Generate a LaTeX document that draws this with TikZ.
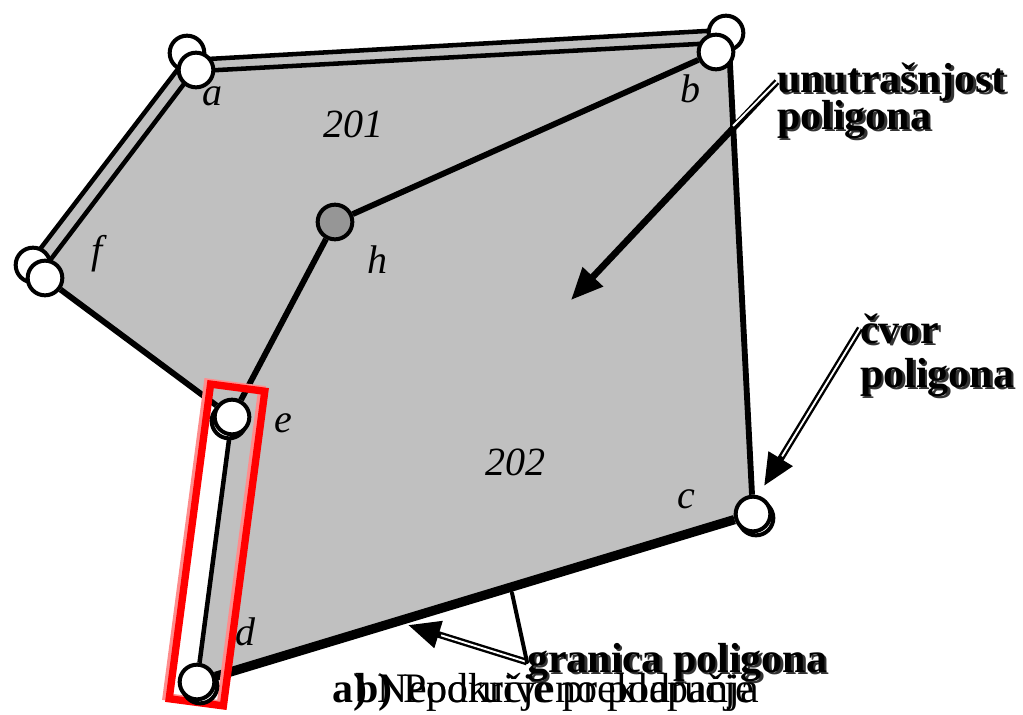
\documentclass[tikz,border=0pt]{standalone}
\usepackage{fontspec}
\setmainfont{Liberation Serif}
\usepackage{xcolor}
\usepackage{tikz}
\usetikzlibrary{arrows.meta, positioning, backgrounds}

\definecolor{polygray}{RGB}{192,192,192}
\definecolor{hubgray}{RGB}{150,150,150}

\begin{document}
\begin{tikzpicture}[x=0.75pt, y=-0.75pt, line join=round, line cap=round]
    \tikzset{
        vertex/.style={circle, draw, line width=3pt, fill=white, minimum size=26pt, inner sep=0pt},
        hub/.style={vertex, fill=hubgray},
        edge/.style={draw, line width=4.4pt},
        thinedge/.style={draw, line width=3.4pt},
        rim/.style={draw, line width=7pt},
        frame/.style={rectangle, draw=red, line width=5.5pt, line join=miter, rotate=-7.5, minimum width=41pt, minimum height=238pt, inner sep=0pt},
        ptlabel/.style={font=\fontsize{30}{30}\selectfont\itshape, anchor=base, inner sep=0pt},
        callout/.style={font=\fontsize{31.5}{31.5}\selectfont\bfseries, anchor=base west, inner sep=0pt},
        calloutshadow/.style={callout, text=black!80},
        caption/.style={font=\fontsize{31.5}{31.5}\selectfont, anchor=base west, inner sep=0pt},
        pointer/.style={draw, line width=5pt, line cap=butt, -{Triangle[length=24pt, width=20pt]}},
        pointercore/.style={draw, line width=1.4pt, line cap=butt}
    }
    \useasboundingbox (0,0) rectangle (1023,714);

    % vertices (back copies first)
    \node[vertex] (ABack) at (187,53) {};
    \node[vertex] (BBack) at (726,33) {};
    \node[vertex] (FBack) at (33,265) {};
    \node[vertex] (EShade) at (229,421) {};
    \node[vertex] (DShade) at (200,686) {};
    \node[vertex] (CShade) at (756,518) {};
    \node[vertex] (A) at (196,70) {};
    \node[vertex] (B) at (716,52) {};
    \node[vertex] (F) at (45,278) {};
    \node[vertex] (E) at (232,417) {};
    \node[vertex] (D) at (197,682) {};
    \node[vertex] (C) at (753,514) {};
    \node[hub] (H) at (335,222) {};

    % ends of the doubled outline
    \coordinate (ABoutA) at (190,60);
    \coordinate (ABoutB) at (724,30);
    \coordinate (ABinA) at (200,71);
    \coordinate (ABinB) at (716,43);
    \coordinate (AFoutA) at (181,65);
    \coordinate (AFoutF) at (34,257);
    \coordinate (AFinA) at (190,76);
    \coordinate (AFinF) at (45,267);
    \coordinate (BCtop) at (729,45);

    \begin{scope}[on background layer]
        \fill[polygray] (AFoutF) -- (AFoutA) -- (ABoutA) -- (ABoutB) -- (BCtop)
            -- (C.center) -- (D.center) -- (E.center) -- (F.center) -- cycle;
        \draw[thinedge] (ABoutA) -- (ABoutB);
        \draw[thinedge] (ABinA) -- (ABinB);
        \draw[thinedge] (AFoutA) -- (AFoutF);
        \draw[thinedge] (AFinA) -- (AFinF);
        \draw[edge] (F) -- (E);
        \draw[edge] (E) -- (H);
        \draw[edge] (H) -- (B);
        \draw[edge] (BCtop) -- (C);
        \draw[rim] (C) -- (D);
        \draw[thinedge] (D) -- (E);
        \node[frame, draw=red!45] (FrameGlow) at (214,543) {};
        \node[frame] (Frame) at (217,545) {};
    \end{scope}

    % vertex names and areas
    \node[ptlabel] (LabA) at (212,105) {a};
    \node[ptlabel] (LabB) at (690,102) {b};
    \node[ptlabel] (Lab201) at (353,137) {201};
    \node[ptlabel] (LabF) at (97,263) {f};
    \node[ptlabel] (LabH) at (377,273) {h};
    \node[ptlabel] (LabE) at (283,432) {e};
    \node[ptlabel] (Lab202) at (515,475) {202};
    \node[ptlabel] (LabC) at (686,508) {c};
    \node[ptlabel] (LabD) at (245,645) {d};

    % callouts
    \node[calloutshadow] (InteriorShade) at (779.5,94.5) {unutrašnjost};
    \node[calloutshadow] (InteriorShadeB) at (779.5,131.5) {poligona};
    \node[callout] (Interior) at (777,92) {unutrašnjost};
    \node[callout] (InteriorB) at (777,129) {poligona};
    \node[calloutshadow] (NodeShade) at (862.5,345.5) {čvor};
    \node[calloutshadow] (NodeShadeB) at (862.5,389.5) {poligona};
    \node[callout] (NodeTop) at (860,343) {čvor};
    \node[callout] (NodeB) at (860,387) {poligona};
    \node[calloutshadow] (BorderShade) at (529.5,674.5) {granica poligona};
    \node[callout] (Border) at (527,672) {granica poligona};

    \node[caption] (CaptionA) at (332,702) {\textbf{a)} Nepokriveno područje};
    \node[caption] (CaptionB) at (355,702) {\textbf{b)} Područje preklapanja};

    % pointers
    \coordinate (InteriorCross) at (733,126);
    \coordinate (InteriorTip) at (571,300);
    \coordinate (VertexTip) at (764,486);
    \coordinate (BorderTip) at (408,625);
    \coordinate (BorderFoot) at (512,593);

    \draw[pointer] (Interior.west) -- (InteriorTip);
    \draw[pointercore, white] (Interior.west) -- (InteriorCross);
    \draw[pointer] (NodeTop.west) -- (VertexTip);
    \draw[pointercore, white, shorten >=26pt] (NodeTop.west) -- (VertexTip);
    \draw[pointer] (Border.west) -- (BorderTip);
    \draw[pointercore, white, shorten >=26pt] (Border.west) -- (BorderTip);
    \draw[edge, line width=3pt] (Border.west) -- (BorderFoot);

\end{tikzpicture}
\end{document}
